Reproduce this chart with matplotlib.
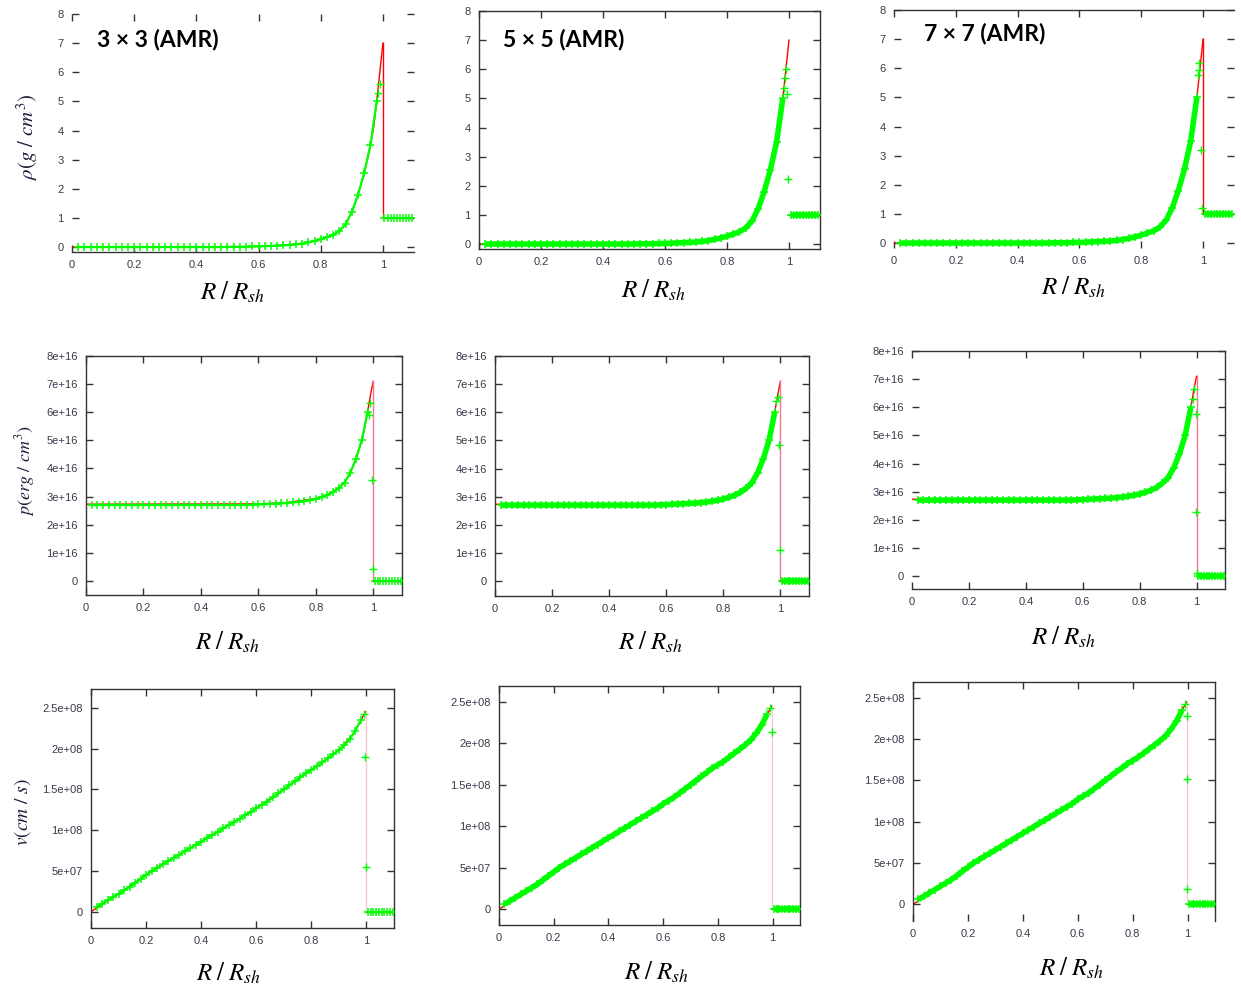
import matplotlib
matplotlib.use('Agg')
import matplotlib.pyplot as plt
from matplotlib.ticker import FuncFormatter, MultipleLocator

plt.rcParams['mathtext.fontset'] = 'stix'
plt.rcParams['font.family'] = ['Liberation Sans', 'DejaVu Sans']

# --- data ----------------------------------------------------------------
titles = ['3 \u00d7 3 (AMR)', '5 \u00d7 5 (AMR)', '7 \u00d7 7 (AMR)']

# cell centres behind the shock (same for all three resolutions)
r_body = [0.02, 0.04, 0.06, 0.08, 0.10, 0.12, 0.14, 0.16, 0.18, 0.20,
          0.22, 0.24, 0.26, 0.28, 0.30, 0.32, 0.34, 0.36, 0.38, 0.40,
          0.42, 0.44, 0.46, 0.48, 0.50, 0.52, 0.54, 0.56, 0.58, 0.60,
          0.62, 0.64, 0.66, 0.68, 0.70, 0.72, 0.74, 0.76, 0.78, 0.80,
          0.82, 0.84, 0.86, 0.88, 0.90, 0.92, 0.94, 0.96, 0.98]
rho_body = [0.0, 0.0, 0.0, 0.0, 0.0, 0.0, 0.0, 0.0, 0.0, 0.0,
            0.0, 0.0, 0.0, 0.0, 0.0, 0.0, 0.0, 0.0, 0.0, 0.0,
            0.0, 0.0, 0.0, 0.0, 0.0, 0.01, 0.01, 0.01, 0.02, 0.02,
            0.03, 0.04, 0.05, 0.06, 0.07, 0.09, 0.12, 0.16, 0.21, 0.27,
            0.34, 0.42, 0.55, 0.78, 1.2, 1.8, 2.55, 3.5, 5.0]
p_body = [2.70, 2.70, 2.70, 2.70, 2.70, 2.70, 2.70, 2.70, 2.70, 2.70,
          2.70, 2.70, 2.70, 2.70, 2.70, 2.70, 2.70, 2.70, 2.70, 2.70,
          2.70, 2.70, 2.70, 2.70, 2.70, 2.70, 2.70, 2.70, 2.71, 2.72,
          2.73, 2.74, 2.75, 2.76, 2.77, 2.79, 2.81, 2.84, 2.87, 2.92,
          2.98, 3.05, 3.15, 3.30, 3.50, 3.85, 4.35, 5.00, 6.00]
v_body = [0.06, 0.10, 0.14, 0.18, 0.22, 0.26, 0.30, 0.35, 0.40, 0.45,
          0.50, 0.54, 0.58, 0.62, 0.66, 0.70, 0.74, 0.78, 0.82, 0.86,
          0.90, 0.94, 0.98, 1.02, 1.06, 1.10, 1.14, 1.18, 1.22, 1.27,
          1.31, 1.35, 1.40, 1.45, 1.50, 1.55, 1.60, 1.65, 1.70, 1.74,
          1.78, 1.83, 1.88, 1.93, 1.98, 2.04, 2.12, 2.22, 2.35]

# cells in / just behind the shock, one list per resolution
rho_shock_r = [[0.985, 0.99], [0.985, 0.988, 0.99, 0.995, 0.996],
               [0.984, 0.986, 0.988, 0.993, 0.996]]
rho_shock = [[5.3, 5.6], [5.35, 5.7, 6.0, 5.15, 2.23],
             [5.77, 5.94, 6.17, 3.19, 1.19]]
p_shock_r = [[0.985, 0.99, 0.997, 1.0], [0.986, 0.99, 0.995, 0.998],
             [0.988, 0.992, 0.998, 0.999, 1.0]]
p_shock = [[5.9, 6.34, 3.6, 0.41], [6.4, 6.55, 4.83, 1.1],
           [6.3, 6.66, 5.77, 2.27, 0.1]]
v_shock_r = [[0.99, 0.996, 0.998], [0.99, 0.997],
             [0.99, 0.997, 0.997, 0.998]]
v_shock = [[2.42, 1.9, 0.55], [2.42, 2.14], [2.43, 2.28, 1.52, 0.19]]

# unshocked gas ahead of the front
r_ambient = [1.005, 1.015, 1.025, 1.035, 1.045, 1.055, 1.065, 1.075, 1.085, 1.095]
rho_ambient = [1.0, 1.0, 1.0, 1.0, 1.0, 1.0, 1.0, 1.0, 1.0, 1.0]
p_ambient = [0.0, 0.0, 0.0, 0.0, 0.0, 0.0, 0.0, 0.0, 0.0, 0.0]
v_ambient = [0.0, 0.0, 0.0, 0.0, 0.0, 0.0, 0.0, 0.0, 0.0, 0.0]

# analytic Sedov solution (red)
rho_exact_r = [0.0, 0.5, 0.6, 0.7, 0.76, 0.8, 0.84, 0.86, 0.88, 0.9,
               0.92, 0.94, 0.96, 0.97, 0.98, 0.99, 1.0]
rho_exact = [0.0, 0.005, 0.02, 0.07, 0.16, 0.27, 0.42, 0.55, 0.78, 1.2,
             1.8, 2.55, 3.5, 4.1, 5.0, 6.0, 7.0]
p_exact_r = [0.0, 0.6, 0.7, 0.8, 0.84, 0.88, 0.9, 0.92, 0.94, 0.96,
             0.97, 0.98, 0.99, 1.0]
p_exact = [2.73, 2.74, 2.79, 2.93, 3.06, 3.31, 3.5, 3.85, 4.35, 5.0,
           5.45, 6.0, 6.6, 7.1]
v_exact_r = [0.0, 0.1, 0.2, 0.3, 0.4, 0.5, 0.6, 0.7, 0.8, 0.9, 0.95,
             0.98, 0.997]
v_exact = [0.0, 0.22, 0.45, 0.66, 0.86, 1.06, 1.27, 1.5, 1.74, 1.98,
           2.17, 2.35, 2.45]

P_UNIT = 1e16
V_UNIT = 1e8

# --- layout (pixel boxes: left, right, top, bottom) ------------------------
W, H = 1241, 993
boxes = [
    [(72, 414, 14, 252), (479, 820, 11, 249), (894, 1234, 10, 248)],
    [(86, 402, 356, 595), (495, 809, 356, 596), (912, 1225, 351, 589)],
    [(91, 394, 689, 928), (499, 800, 686, 925), (913, 1215, 682, 921)],
]
ylims = [
    [(-0.17, 8), (-0.17, 8), (-0.17, 8)],
    [(-0.5, 8), (-0.53, 8), (-0.46, 8)],
    [(-0.2, 2.73), (-0.19, 2.69), (-0.2, 2.69)],
]
# which frame lines survive in the scanned figure
spines_on = [
    [('bottom',), ('left', 'right', 'top', 'bottom'), ('top',)],
    [('left', 'right', 'top', 'bottom'), ('left', 'right', 'top', 'bottom'),
     ('right', 'top', 'bottom')],
    [('left', 'right', 'top', 'bottom'), ('left', 'right', 'top', 'bottom'),
     ('left', 'right', 'top')],
]
xlabel_pos = [
    [(233, 292), (654, 290), (1074, 287)],
    [(228, 642), (651, 642), (1064, 637)],
    [(229, 973), (657, 972), (1072, 968)],
]
ylab_pos = [(27, 137), (25, 471), (23, 812)]
ylab_text = [r'$\rho(g\ /\ cm^3)$', r'$p(erg\ /\ cm^3)$', r'$v(cm\ /\ s)$']
ylab_size = [15, 13, 14]
title_pos = [(97, 40), (503, 40), (924, 34)]

GREEN = '#00ff00'
RED = '#ff0000'
TICKCOL = '#3a3a4a'

fig = plt.figure(figsize=(W / 100, H / 100), dpi=100)

gfmt = FuncFormatter(lambda v, pos: '%g' % v)

for row in range(3):
    for col in range(3):
        left, right, top, bottom = boxes[row][col]
        ax = fig.add_axes([left / W, 1 - bottom / H, (right - left) / W, (bottom - top) / H])

        if row == 0:
            scale = 1.0
            ex_r, ex_v = rho_exact_r, rho_exact
            body = rho_body
            sh_r, sh_v = rho_shock_r[col], rho_shock[col]
            amb = rho_ambient
            drop_to, drop_col = 1.0, RED
            step = 1
        elif row == 1:
            scale = P_UNIT
            ex_r, ex_v = p_exact_r, p_exact
            body = p_body
            sh_r, sh_v = p_shock_r[col], p_shock[col]
            amb = p_ambient
            drop_to, drop_col = 0.0, '#f07890'
            step = 1e16
        else:
            scale = V_UNIT
            ex_r, ex_v = v_exact_r, v_exact
            body = v_body
            sh_r, sh_v = v_shock_r[col], v_shock[col]
            amb = v_ambient
            drop_to, drop_col = 0.0, '#f8c8d0'
            step = 5e7

        # analytic solution
        ax.plot(ex_r, [y * scale for y in ex_v], color=RED, lw=1.0, zorder=2)
        if not (row == 0 and col == 1):
            ax.plot([ex_r[-1], ex_r[-1]], [ex_v[-1] * scale, drop_to * scale],
                    color=drop_col, lw=1.0, zorder=2)
        ax.plot([ex_r[-1], 1.1], [drop_to * scale, drop_to * scale], color=RED, lw=1.0, zorder=2)

        # simulation cells: coarse run shows separate crosses, finer runs a thick band
        ys = [y * scale for y in body]
        ya = [y * scale for y in amb]
        band = 1.6 if col == 0 else 4.0
        for xs, yv in ((r_body, ys), (r_ambient, ya)):
            ax.plot(xs, yv, ls='-', lw=band, marker='+', ms=6, mew=1.1,
                    color=GREEN, solid_capstyle='butt', zorder=3)
        ax.plot(sh_r, [y * scale for y in sh_v], ls='none', marker='+', ms=6, mew=1.0,
                color=GREEN, zorder=3)

        ax.set_xlim(0, 1.1)
        ax.set_ylim(ylims[row][col][0] * (1 if row == 0 else scale),
                    ylims[row][col][1] * (1 if row == 0 else scale))
        ax.xaxis.set_major_locator(MultipleLocator(0.2))
        ax.yaxis.set_major_locator(MultipleLocator(step))
        ax.xaxis.set_major_formatter(gfmt)
        ax.yaxis.set_major_formatter(gfmt)
        ax.tick_params(direction='in', top=True, right=True, length=5, width=1,
                       color='#333333', labelsize=8, labelcolor=TICKCOL, pad=6)

        for side in ('left', 'right', 'top', 'bottom'):
            ax.spines[side].set_visible(side in spines_on[row][col])
            ax.spines[side].set_color('#333333')
            ax.spines[side].set_linewidth(1.0)

        # x label below each panel
        lx, ly = xlabel_pos[row][col]
        fig.text(lx / W, 1 - ly / H, r'$R\;/\;R_{sh}$', fontsize=18, ha='center', va='center')

        if row == 0:
            tx, ty = title_pos[col]
            fig.text(tx / W, 1 - ty / H, titles[col], fontsize=16.5, fontweight='bold',
                     family=['Lato', 'DejaVu Sans'], ha='left', va='center')

    yx, yy = ylab_pos[row]
    fig.text(yx / W, 1 - yy / H, ylab_text[row], fontsize=ylab_size[row], rotation=90,
             ha='center', va='center', color='#1a1a3a')

fig.savefig('out.png', dpi=100)
